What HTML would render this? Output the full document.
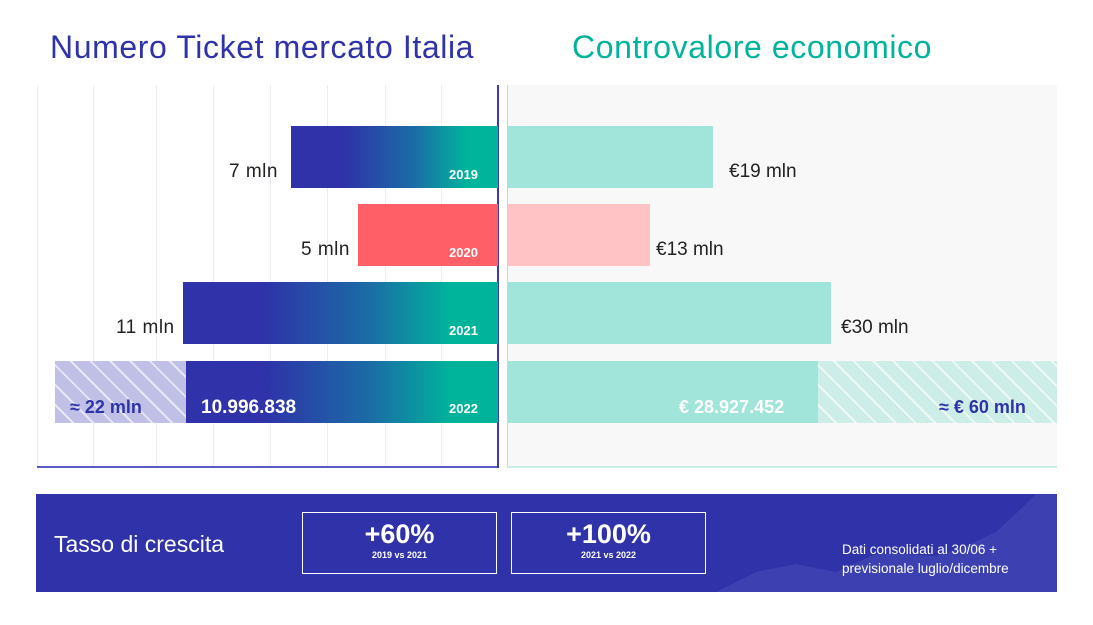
<!DOCTYPE html>
<html><head><meta charset="utf-8"><style>
body{margin:0;width:1093px;height:625px;background:#fff;position:relative;overflow:hidden;font-family:"Liberation Sans",sans-serif}
.a{position:absolute}
.g{position:absolute;top:85px;height:383px;width:1px;background:#ececf4}
.lbl{position:absolute;font-size:19px;color:#222}
.yr{position:absolute;font-size:13px;font-weight:bold;color:#fff}
.grad{background:linear-gradient(90deg,#2f32a8 0%,#2f32a8 25%,#1a6ea6 60%,#00b49c 85%,#00b49c 100%)}
.box{position:absolute;top:512px;height:60px;border:1.5px solid #fff;color:#fff;text-align:center}
</style></head><body>
<div class="a" style="left:50px;top:29px;font-size:32px;color:#2f32a8;letter-spacing:0.6px">Numero Ticket mercato Italia</div>
<div class="a" style="left:572px;top:29px;font-size:32px;color:#00b49c;letter-spacing:0.6px">Controvalore economico</div>
<div class="a" style="left:508px;top:85px;width:549px;height:383px;background:#f8f8f8"></div>
<div class="g" style="left:93px"></div><div class="g" style="left:156px"></div><div class="g" style="left:213px"></div><div class="g" style="left:270px"></div><div class="g" style="left:327px"></div><div class="g" style="left:385px"></div><div class="g" style="left:441px"></div>
<div class="a" style="left:37px;top:85px;width:1px;height:383px;background:#ececf4"></div>
<div class="a" style="left:37px;top:466px;width:462px;height:2px;background:#5a5cc0"></div>
<div class="a" style="left:497px;top:85px;width:2px;height:383px;background:#3a3cb0"></div>
<div class="a" style="left:507px;top:85px;width:1px;height:383px;background:#a8e4d8"></div>
<div class="a" style="left:507px;top:466px;width:550px;height:2px;background:#c8eee6"></div>
<!-- left bars -->
<div class="a grad" style="left:291px;top:126px;width:207px;height:62px"></div>
<div class="yr" style="left:449px;top:167px">2019</div>
<div class="lbl" style="left:229px;top:161px;letter-spacing:0.5px">7 mln</div>
<div class="a" style="left:358px;top:204px;width:140px;height:62px;background:#ff5f66"></div>
<div class="yr" style="left:449px;top:245px">2020</div>
<div class="lbl" style="left:301px;top:239px;letter-spacing:0.5px">5 mln</div>
<div class="a grad" style="left:183px;top:282px;width:315px;height:62px"></div>
<div class="yr" style="left:449px;top:323px">2021</div>
<div class="lbl" style="left:116px;top:317px;letter-spacing:0.5px">11 mln</div>
<div class="a" style="left:55px;top:361px;width:131px;height:62px;background:repeating-linear-gradient(45deg,#c0c0e6 0 12px,#e6e6f6 12px 14px)"></div>
<div class="a grad" style="left:186px;top:361px;width:312px;height:62px"></div>
<div class="a" style="left:70px;top:397px;font-size:18px;font-weight:bold;color:#2f32a8">≈ 22 mln</div>
<div class="a" style="left:201px;top:397px;font-size:19px;font-weight:bold;color:#fff">10.996.838</div>
<div class="yr" style="left:449px;top:401px">2022</div>
<!-- right bars -->
<div class="a" style="left:508px;top:126px;width:205px;height:62px;background:#a0e4da"></div>
<div class="lbl" style="left:729px;top:161px">€19 mln</div>
<div class="a" style="left:508px;top:204px;width:142px;height:62px;background:#ffc3c6"></div>
<div class="lbl" style="left:656px;top:239px">€13 mln</div>
<div class="a" style="left:508px;top:282px;width:323px;height:62px;background:#a0e4da"></div>
<div class="lbl" style="left:841px;top:317px">€30 mln</div>
<div class="a" style="left:508px;top:361px;width:310px;height:62px;background:#a0e4da"></div>
<div class="a" style="left:818px;top:361px;width:239px;height:62px;background:repeating-linear-gradient(45deg,#cdeee8 0 12px,#eef9f6 12px 14px)"></div>
<div class="a" style="left:679px;top:397px;font-size:18px;font-weight:bold;color:#fff">€ 28.927.452</div>
<div class="a" style="left:939px;top:397px;font-size:18px;font-weight:bold;color:#2f32a8">≈ € 60 mln</div>
<!-- bottom band -->
<div class="a" style="left:36px;top:494px;width:1021px;height:98px;background:#2f32a8;overflow:hidden">
<svg width="1021" height="98" style="position:absolute;left:0;top:0"><polygon points="680,98 720,78 760,70 800,78 840,60 870,60 900,62 930,52 960,38 990,10 1000,0 1021,0 1021,98" fill="#4a4db8" opacity="0.5"/></svg>
</div>
<div class="a" style="left:54px;top:531px;font-size:23px;color:#fff">Tasso di crescita</div>
<div class="box" style="left:302px;width:193px"><div style="font-size:27px;font-weight:bold;margin-top:6px">+60%</div><div style="font-size:9px;font-weight:bold">2019 vs 2021</div></div>
<div class="box" style="left:511px;width:193px"><div style="font-size:27px;font-weight:bold;margin-top:6px">+100%</div><div style="font-size:9px;font-weight:bold">2021 vs 2022</div></div>
<div class="a" style="left:842px;top:540px;font-size:13.5px;line-height:19px;color:#fff">Dati consolidati al 30/06 +<br>previsionale luglio/dicembre</div>
</body></html>
